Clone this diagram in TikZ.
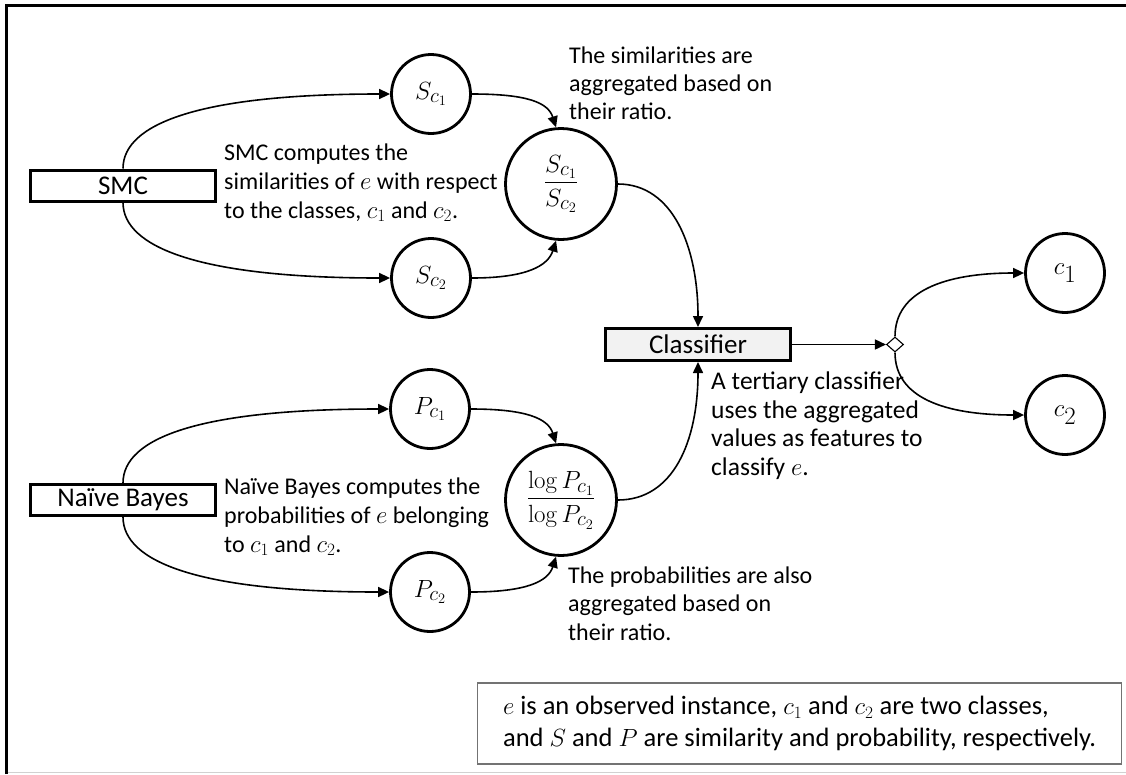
\documentclass[tikz,border=0pt]{standalone}
\usepackage{amsmath}
\usepackage[no-math]{fontspec}
\setmainfont{Carlito}
\usetikzlibrary{arrows.meta,shapes.geometric}
\begin{document}
\begin{tikzpicture}[x=1pt,y=-1pt,
  txt/.style={font=\fontsize{24}{28.7}\selectfont, align=left, anchor=base west, inner sep=0pt},
  circ/.style={circle, draw, line width=2.8pt, minimum size=79pt, inner sep=0pt, font=\fontsize{28}{30}\selectfont},
  bigcirc/.style={circ, minimum size=111pt, font=\fontsize{30}{32}\selectfont},
  outc/.style={circ, font=\fontsize{36}{38}\selectfont},
  boxn/.style={draw, line width=3pt, minimum width=185pt, minimum height=31pt, inner sep=0pt, font=\fontsize{27}{30}\selectfont},
  conn/.style={line width=1.6pt, -{Triangle[length=11pt,width=10pt]}}]
\useasboundingbox (0,0) rectangle (1126,774);
\fill[white] (0,0) rectangle (1126,774);
% frame
\draw[line width=3pt] (6.5,774) -- (6.5,5.5) -- (1126,5.5);
\draw[line width=1.5pt, black!18] (8,772.5) -- (1126,772.5);

% nodes
\node[boxn] (smc) at (123,185.5) {SMC};
\node[boxn] (nb) at (123,500) {Naïve Bayes};
\node[circ] (sc1) at (431,94) {$S_{c_1}$};
\node[circ] (sc2) at (431,278) {$S_{c_2}$};
\node[bigcirc] (sr) at (561,184) {$\dfrac{S_{c_1}}{S_{c_2}}$};
\node[circ] (pc1) at (430,409) {$P_{c_1}$};
\node[circ] (pc2) at (430,592) {$P_{c_2}$};
\node[bigcirc] (pr) at (561,500) {$\dfrac{\log P_{c_1}}{\log P_{c_2}}$};
\node[boxn, fill=black!5, minimum height=32pt] (cls) at (698,344.5) {Classifier};
\node[diamond, draw, fill=white, line width=1.1pt, minimum width=17pt, minimum height=15pt, inner sep=0pt] (dm) at (895,344.5) {};
\node[outc] (c1) at (1065,273) {$c_1$};
\node[outc] (c2) at (1065,415) {$c_2$};

% texts
\node[txt] (t1) at (224,218) {SMC computes the\\similarities of $e$ with respect\\to the classes, $c_1$ and $c_2$.};
\node[txt, font=\fontsize{24}{28}\selectfont] (t2) at (569,119) {The similarities are\\aggregated based on\\their ratio.};
\node[txt] (t3) at (224,552) {Naïve Bayes computes the\\probabilities of $e$ belonging\\to $c_1$ and $c_2$.};
\node[txt, font=\fontsize{25.5}{28.5}\selectfont] (t4) at (711,475) {A tertiary classifier\\uses the aggregated\\values as features to\\classify $e$.};
\node[txt, font=\fontsize{24}{28.5}\selectfont] (t5) at (568,640) {The probabilities are also\\aggregated based on\\their ratio.};
\node[draw=black!55, line width=1.2pt, anchor=west, minimum width=644pt, minimum height=81pt, inner xsep=10pt, align=left, font=\fontsize{26.5}{32}\selectfont] (note) at (477,723.5) {$e$ is an observed instance, $c_1$ and $c_2$ are two classes,\\and $S$ and $P$ are similarity and probability, respectively.};

% connectors
\draw[conn] (smc.north) .. controls +(0,-45) and +(-190,0) .. (sc1.west);
\draw[conn] (smc.south) .. controls +(0,45) and +(-190,0) .. (sc2.west);
\draw[conn] (nb.north) .. controls +(0,-45) and +(-190,0) .. (pc1.west);
\draw[conn] (nb.south) .. controls +(0,45) and +(-190,0) .. (pc2.west);
\draw[conn] (sc1.east) .. controls +(55,0) and +(-8,-25) .. (sr.95);
\draw[conn] (sc2.east) .. controls +(55,0) and +(-8,25) .. (sr.-95);
\draw[conn] (pc1.east) .. controls +(55,0) and +(-8,-25) .. (pr.95);
\draw[conn] (pc2.east) .. controls +(55,0) and +(-8,25) .. (pr.-95);
\draw[conn] (sr.east) .. controls +(55,0) and +(0,-80) .. (cls.north);
\draw[conn] (pr.east) .. controls +(55,0) and +(0,80) .. (cls.south);
\draw[conn] (cls.east) -- (dm.west);
\draw[conn] (dm.north) .. controls +(0,-45) and +(-80,0) .. (c1.west);
\draw[conn] (dm.south) .. controls +(0,45) and +(-80,0) .. (c2.west);
\end{tikzpicture}
\end{document}
